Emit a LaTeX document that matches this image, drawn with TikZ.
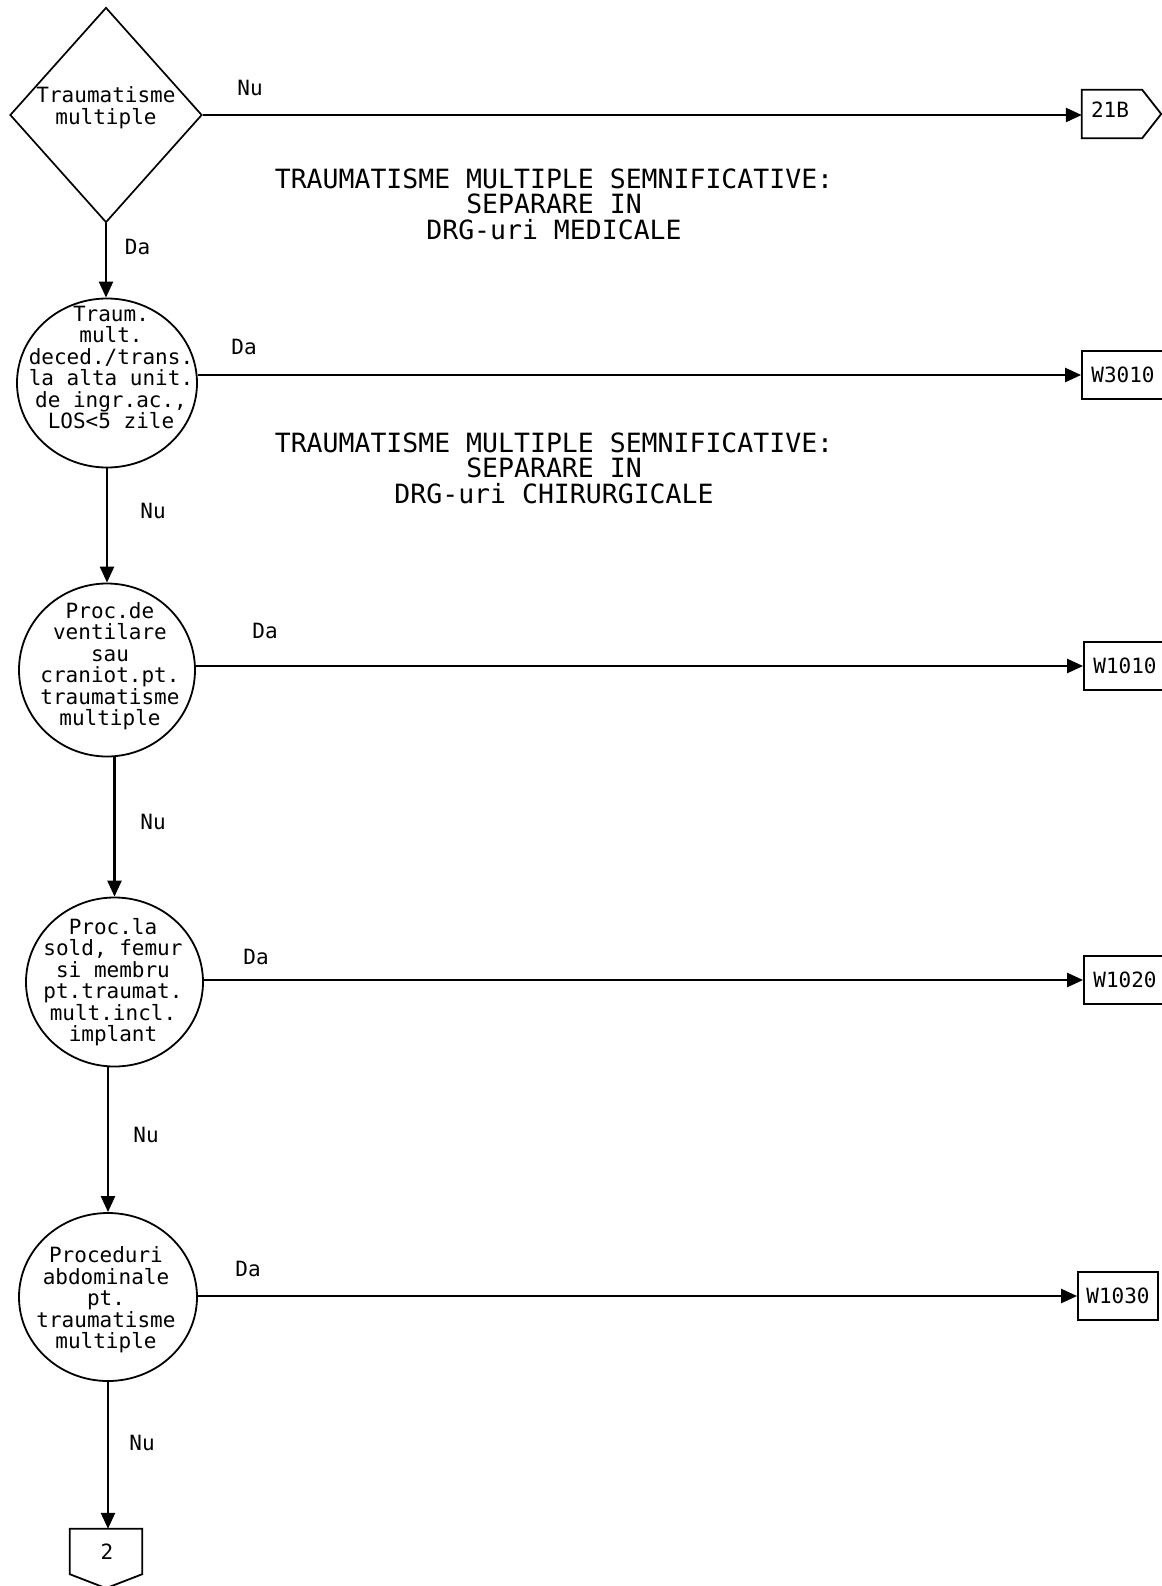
\documentclass[tikz,border=0pt]{standalone}
\usepackage{fontspec}
\newfontfamily\mono{DejaVu Sans Mono}
\usetikzlibrary{shapes.geometric,arrows.meta,calc}
\begin{document}
\begin{tikzpicture}[x=1pt,y=-1pt,
  every node/.style={font=\mono\fontsize{21}{21.5}\selectfont, inner sep=0pt},
  arr/.style={line width=2.4pt, -{Triangle[length=16pt,width=14pt]}},
  dec/.style={draw, line width=1.7pt, diamond, minimum width=192pt, minimum height=215pt},
  proc/.style={draw, line width=1.8pt, ellipse},
  termbox/.style={draw, line width=1.8pt, rectangle, minimum width=82pt, minimum height=48pt},
  offp/.style={minimum width=60pt, minimum height=48pt},
  ctext/.style={align=center},
  head/.style={align=center, font=\mono\fontsize{26.5}{25.5}\selectfont}
]
\useasboundingbox (0,0) rectangle (1161,1586);

% decision
\node[dec] (d) at (106,115) {};
\node[ctext] (dt) at (106,107.5) {Traumatisme\\multiple};

% process circles
\node[proc, minimum width=180pt, minimum height=169pt] (c1) at (107,383) {};
\node[ctext] (c1t) at (111,367.5) {Traum.\\mult.\\deced./trans.\\la alta unit.\\de ingr.ac.,\\LOS<5 zile};

\node[proc, minimum width=176pt, minimum height=173pt] (c2) at (107,670) {};
\node[ctext] (c2t) at (110,666) {Proc.de\\ventilare\\sau\\craniot.pt.\\traumatisme\\multiple};

\node[proc, minimum width=177pt, minimum height=169pt] (c3) at (114.5,982) {};
\node[ctext] (c3t) at (113,982) {Proc.la\\sold, femur\\si membru\\pt.traumat.\\mult.incl.\\implant};

\node[proc, minimum width=178pt, minimum height=168pt] (c4) at (108,1297) {};
\node[ctext] (c4t) at (106,1300) {Proceduri\\abdominale\\pt.\\traumatisme\\multiple};

% headings
\node[head] (h1) at (554,204) {TRAUMATISME MULTIPLE SEMNIFICATIVE:\\SEPARARE IN\\DRG-uri MEDICALE};
\node[head] (h2) at (554,468) {TRAUMATISME MULTIPLE SEMNIFICATIVE:\\SEPARARE IN\\DRG-uri CHIRURGICALE};

% terminal boxes
\node[offp] (p21) at (1112,114) {};
\node (p21t) at (1110,110) {21B};
\draw[line width=1.8pt] (p21.north west) -- (p21.north east) -- ($(p21.east)+(19,0)$) -- (p21.south east) -- (p21.south west) -- cycle;

\node[termbox] (w3010) at (1123,375) {W3010};
\node[termbox] (w1010) at (1125,666) {W1010};
\node[termbox] (w1020) at (1125,980) {W1020};
\node[termbox, minimum width=80pt] (w1030) at (1118,1296) {W1030};

\node[minimum width=72pt, minimum height=45pt] (p2) at (106,1551.5) {};
\node (p2t) at (107,1552) {2};
\draw[line width=1.8pt] (p2.south west) -- (p2.north west) -- (p2.north east) -- (p2.south east) -- ($(p2.south)+(0,14)$) -- cycle;

% connectors
\draw[arr] (d.east) -- (d.east -| p21.west);
\draw[arr] (d.south) -- (d.south |- c1.north);
\draw[arr] (c1.east |- w3010) -- (w3010.west);
\draw[arr] (c1.south) -- (c1.south |- c2.north);
\draw[arr] (c2.east |- w1010) -- (w1010.west);
\draw[arr] (c3.north |- c2.south) -- (c3.north);
\draw[arr] (c3.east |- w1020) -- (w1020.west);
\draw[arr] (c4.north |- c3.south) -- (c4.north);
\draw[arr] (c4.east |- w1030) -- (w1030.west);
\draw[arr] (c4.south) -- (c4.south |- p2.north);

% labels
\node (l0) at (250,88) {Nu};
\node (l1) at (137.5,247) {Da};
\node (l2) at (244,347) {Da};
\node (l3) at (153,511) {Nu};
\node (l4) at (265,631) {Da};
\node (l5) at (153,822) {Nu};
\node (l6) at (256,957) {Da};
\node (l7) at (146,1135) {Nu};
\node (l8) at (248,1269) {Da};
\node (l9) at (142,1443) {Nu};
\end{tikzpicture}
\end{document}
